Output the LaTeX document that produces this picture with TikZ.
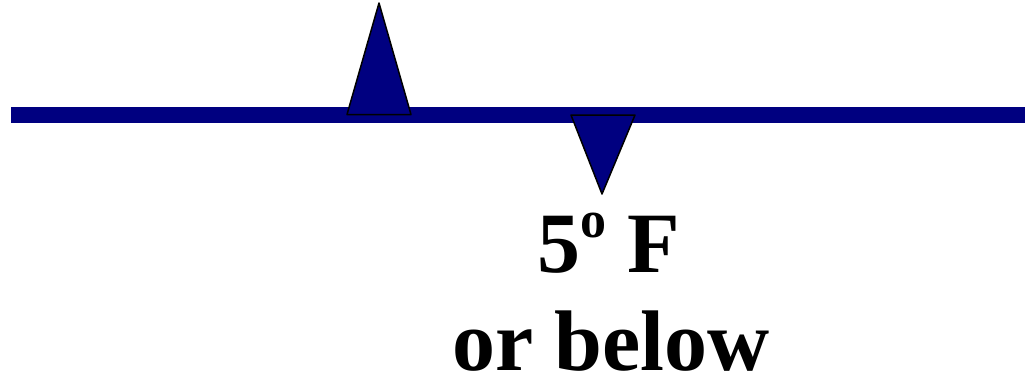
\documentclass[tikz,border=0pt]{standalone}
\usepackage{fontspec}
\setmainfont{Liberation Serif}
\definecolor{navy}{RGB}{0,0,128}
\begin{document}
\begin{tikzpicture}[x=1pt,y=-1pt,
  tri/.style={fill=navy,draw=black,line width=1.5pt,line join=round},
  lbl/.style={font=\fontsize{86}{98}\selectfont\bfseries, anchor=base, inner sep=0pt}]
\useasboundingbox (0,0) rectangle (1025,378);
\fill[navy] (11,107) rectangle (1025,122.5);
\draw[tri] (347,114.5) -- (379,3) -- (411,114.5) -- cycle;
\draw[tri] (571,115) -- (635,115) -- (602,194) -- cycle;
\node[lbl] (t1) at (609,272) {5\raisebox{35pt}{\fontsize{52}{52}\selectfont o} F};
\node[lbl] (t2) at (611,370) {or below};
\end{tikzpicture}
\end{document}
